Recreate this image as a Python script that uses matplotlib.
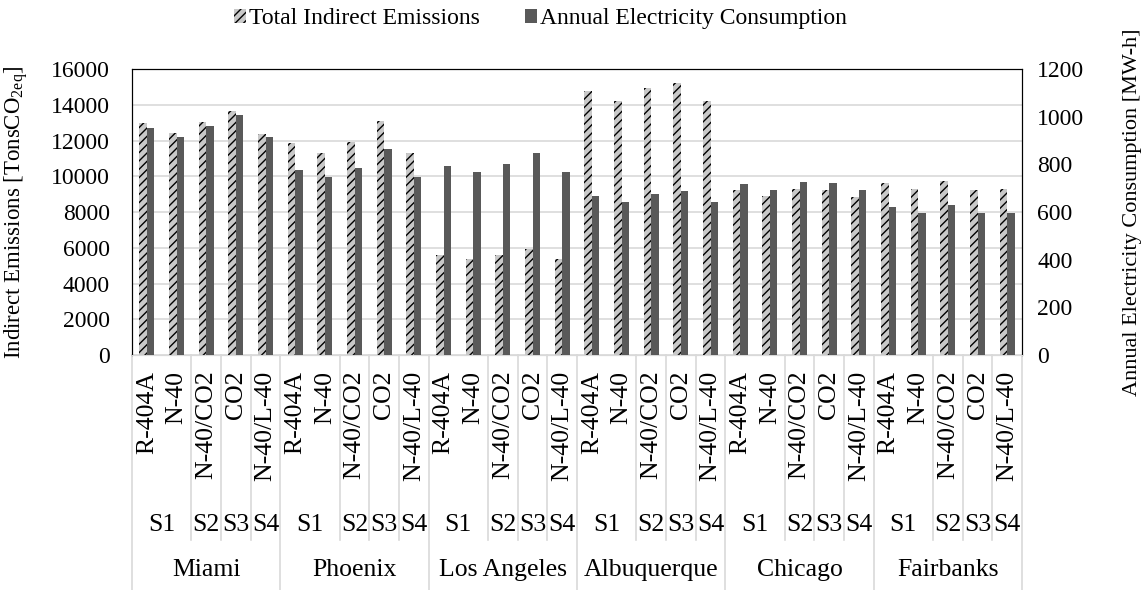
import numpy as np
import matplotlib
matplotlib.use("Agg")
import matplotlib.pyplot as plt
from matplotlib.lines import Line2D
from matplotlib.patches import Patch

plt.rcParams["font.family"] = ["Liberation Serif", "DejaVu Serif"]
plt.rcParams["mathtext.fontset"] = "custom"
plt.rcParams["mathtext.rm"] = "Liberation Serif"
plt.rcParams["mathtext.it"] = "Liberation Serif:italic"
plt.rcParams["hatch.linewidth"] = 1.0

# Data
cities = ["Miami", "Phoenix", "Los Angeles", "Albuquerque", "Chicago", "Fairbanks"]
refrigerants = ["R-404A", "N-40", "N-40/CO2", "CO2", "N-40/L-40"]
systems = ["S1", "S2", "S3", "S4"]
system_pos = [0.5, 2, 3, 4]  # centre of each system label inside a city group

indirect_emissions = [
    12960, 12440, 13040, 13670, 12390,   # Miami
    11850, 11320, 11910, 13110, 11280,   # Phoenix
    5610, 5390, 5610, 5930, 5370,        # Los Angeles
    14780, 14220, 14930, 15200, 14220,   # Albuquerque
    9220, 8870, 9300, 9220, 8830,        # Chicago
    9650, 9280, 9720, 9220, 9280,        # Fairbanks
]
electricity = [
    951, 915, 961, 1008, 914,
    778, 746, 785, 865, 746,
    794, 767, 803, 846, 769,
    668, 643, 676, 690, 643,
    719, 693, 728, 721, 693,
    621, 596, 628, 596, 596,
]

n = len(indirect_emissions)
x = np.arange(n)
w = 0.25
fs_tick = 17
fs_cat = 18.5

fig = plt.figure(figsize=(11.45, 5.9), dpi=100)
ax = fig.add_axes([0.1153, 0.3983, 0.7773, 0.4847])
ax2 = ax.twinx()

ax.bar(x - w / 2, indirect_emissions, w, color="#c8c8c8", edgecolor="black",
       linewidth=0, hatch="////", zorder=3)
ax2.bar(x + w / 2, electricity, w, color="#595959", linewidth=0, zorder=3)

ax.set_xlim(-0.5, n - 0.5)
ax.set_ylim(0, 16000)
ax2.set_ylim(0, 1200)
ax.set_yticks(np.arange(0, 16001, 2000))
ax2.set_yticks(np.arange(0, 1201, 200))
ax.yaxis.grid(True, color="#d9d9d9", linewidth=1.2, zorder=0)
ax.set_axisbelow(True)
ax.tick_params(axis="y", length=0, pad=16, labelsize=fs_tick)
ax2.tick_params(axis="y", length=0, pad=11, labelsize=fs_tick)
ax.set_xticks([])

for a in (ax, ax2):
    a.spines["bottom"].set_color("#d9d9d9")
    a.spines["left"].set_color("black")
    a.spines["right"].set_color("black")
    a.spines["top"].set_color("black")

ax.set_ylabel("Indirect Emissions [TonsCO$_{\\mathrm{2eq}}$]", fontsize=16.5)
ax.yaxis.set_label_coords(-0.115, 0.5)
ax2.set_ylabel("Annual Electricity Consumption [MW-h]", fontsize=16, rotation=90)
ax2.yaxis.set_label_coords(1.113, 0.5)

# multi-level category labels
tr = ax.get_xaxis_transform()
sep_color = "#d9d9d9"
for ci, city in enumerate(cities):
    base = ci * len(refrigerants)
    for ri, ref in enumerate(refrigerants):
        ax.text(base + ri, -0.055, ref, transform=tr, rotation=90, ha="center",
                va="top", fontsize=fs_cat)
    for s, p in zip(systems, system_pos):
        ax.text(base + p, -0.594, s, transform=tr, ha="center", va="center",
                fontsize=fs_cat)
    ax.text(base + 2, -0.752, city, transform=tr, ha="center", va="center",
            fontsize=fs_cat)
    # separators between system groups
    for b in [1.5, 2.5, 3.5]:
        ax.add_line(Line2D([base + b, base + b], [0, -0.647], transform=tr,
                           color=sep_color, linewidth=1.2, clip_on=False))
    # separators between cities
    ax.add_line(Line2D([base - 0.5, base - 0.5], [0, -0.822], transform=tr,
                       color=sep_color, linewidth=1.2, clip_on=False))
ax.add_line(Line2D([n - 0.5, n - 0.5], [0, -0.822], transform=tr,
                   color=sep_color, linewidth=1.2, clip_on=False))

handles = [
    Patch(facecolor="#c8c8c8", edgecolor="black", linewidth=0, hatch="////",
          label="Total Indirect Emissions"),
    Patch(facecolor="#595959", linewidth=0, label="Annual Electricity Consumption"),
]
fig.legend(handles=handles, loc="center", bbox_to_anchor=(0.472, 0.968), ncol=2,
           frameon=False, fontsize=17, handlelength=0.5, handleheight=0.5,
           handletextpad=0.15, columnspacing=1.9)

fig.savefig("out.png", dpi=100)
